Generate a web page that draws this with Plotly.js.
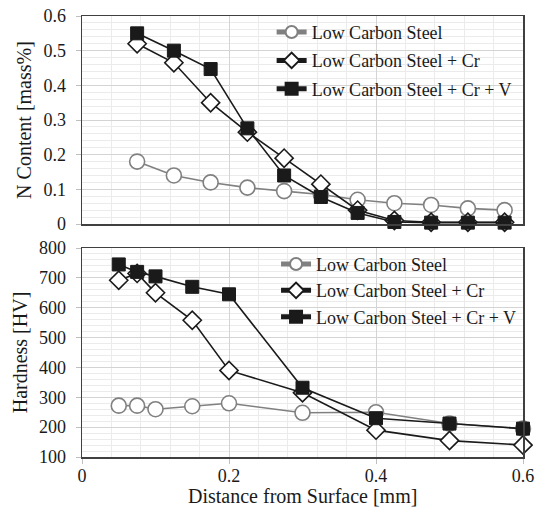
<!DOCTYPE html>
<html>
<head>
<meta charset="utf-8">
<script src="https://cdn.plot.ly/plotly-3.0.1.min.js"></script>
<style>html,body{margin:0;padding:0;background:#fff;}#chart{width:537px;height:517px;}</style>
</head>
<body>
<div id="chart"></div>
<script>
// Data
const seriesNames = ["Low Carbon Steel", "Low Carbon Steel + Cr", "Low Carbon Steel + Cr + V"];

const xNitrogen = [0.075, 0.125, 0.175, 0.225, 0.275, 0.325, 0.375, 0.425, 0.475, 0.525, 0.575];
const nLowCarbon = [0.18, 0.14, 0.12, 0.105, 0.095, 0.085, 0.07, 0.06, 0.055, 0.045, 0.04];
const nCr = [0.52, 0.465, 0.35, 0.265, 0.19, 0.115, 0.04, 0.01, 0.005, 0.005, 0.005];
const nCrV = [0.55, 0.50, 0.447, 0.276, 0.14, 0.078, 0.032, 0.006, 0.004, 0.004, 0.004];

const xHardness = [0.05, 0.075, 0.1, 0.15, 0.2, 0.3, 0.4, 0.5, 0.6];
const hLowCarbon = [272, 272, 260, 270, 280, 248, 250, 212, 195];
const hCr = [692, 715, 650, 558, 390, 315, 190, 155, 140];
const hCrV = [745, 720, 705, 670, 645, 332, 230, 212, 195];

const xTickVals = [0, 0.2, 0.4, 0.6];
const nTickVals = [0, 0.1, 0.2, 0.3, 0.4, 0.5, 0.6];
const hTickVals = [100, 200, 300, 400, 500, 600, 700, 800];

const FONT = "'Liberation Serif', 'Times New Roman', serif";
const styles = [
  {line: {color: "#808080", width: 1.6}, marker: {symbol: "circle", size: 15, color: "#ffffff", line: {color: "#808080", width: 1.6}}},
  {line: {color: "#1a1a1a", width: 1.6}, marker: {symbol: "diamond", size: 14, color: "#ffffff", line: {color: "#1a1a1a", width: 1.6}}},
  {line: {color: "#1a1a1a", width: 1.6}, marker: {symbol: "square", size: 13, color: "#1a1a1a", line: {color: "#1a1a1a", width: 1}}}
];

const nSeries = [nLowCarbon, nCr, nCrV];
const hSeries = [hLowCarbon, hCr, hCrV];
const traces = [];
nSeries.forEach((ys, i) => {
  traces.push(Object.assign({
    type: "scatter", mode: "lines+markers", x: xNitrogen, y: ys, name: seriesNames[i],
    xaxis: "x2", yaxis: "y2", legend: "legend", legendgroup: "n" + i, cliponaxis: false
  }, styles[i]));
});
hSeries.forEach((ys, i) => {
  traces.push(Object.assign({
    type: "scatter", mode: "lines+markers", x: xHardness, y: ys, name: seriesNames[i],
    xaxis: "x", yaxis: "y", legend: "legend2", legendgroup: "h" + i, cliponaxis: false
  }, styles[i]));
});

const frame = {showline: true, linecolor: "#404040", linewidth: 1.5, mirror: true, zeroline: false};
const layout = {
  width: 537, height: 517,
  margin: {l: 82, r: 14, t: 16, b: 60},
  paper_bgcolor: "#ffffff", plot_bgcolor: "#ffffff",
  font: {family: FONT, size: 18, color: "#1a1a1a"},
  showlegend: true,
  xaxis: Object.assign({}, frame, {
    range: [0, 0.6], anchor: "y", tickvals: xTickVals, ticktext: ["0", "0.2", "0.4", "0.6"],
    ticks: "outside", ticklen: 5, tickcolor: "#bfbfbf", ticklabelstandoff: -3,
    gridcolor: "#d4d4d4", gridwidth: 1,
    minor: {dtick: 0.04, tick0: 0, showgrid: true, gridcolor: "#ebebeb", gridwidth: 1, ticks: ""},
    tickfont: {size: 18, family: FONT}
  }),
  yaxis: Object.assign({}, frame, {
    domain: [0, 0.4739], range: [100, 800], tickvals: hTickVals,
    ticks: "outside", ticklen: 5, tickcolor: "#bfbfbf", ticklabelstandoff: 6,
    gridcolor: "#d4d4d4",
    minor: {dtick: 20, tick0: 0, showgrid: true, gridcolor: "#ebebeb", ticks: ""},
    title: {text: "Hardness [HV]", font: {size: 20, family: FONT}, standoff: 6},
    tickfont: {size: 18, family: FONT}
  }),
  xaxis2: Object.assign({}, frame, {
    range: [0, 0.6], anchor: "y2", matches: "x", tickvals: xTickVals, showticklabels: false,
    ticks: "", gridcolor: "#d4d4d4",
    minor: {dtick: 0.04, tick0: 0, showgrid: true, gridcolor: "#ebebeb", ticks: ""}
  }),
  yaxis2: Object.assign({}, frame, {
    domain: [0.5283, 1], range: [0, 0.6], tickvals: nTickVals,
    ticktext: ["0", "0.1", "0.2", "0.3", "0.4", "0.5", "0.6"],
    ticks: "outside", ticklen: 5, tickcolor: "#bfbfbf", ticklabelstandoff: 6,
    gridcolor: "#d4d4d4",
    minor: {dtick: 0.02, tick0: 0, showgrid: true, gridcolor: "#ebebeb", ticks: ""},
    title: {text: "N Content [mass%]", font: {size: 20, family: FONT}, standoff: 6},
    tickfont: {size: 18, family: FONT}
  }),
  annotations: [{
    text: "Distance from Surface [mm]", xref: "paper", yref: "paper", x: 0.5, y: -0.0884,
    xanchor: "center", yanchor: "middle", showarrow: false, font: {size: 20, family: FONT, color: "#1a1a1a"}
  }],
  legend: {
    x: 0.43, y: 1.005, xanchor: "left", yanchor: "top", xref: "paper", yref: "paper",
    bgcolor: "rgba(255,255,255,0)", borderwidth: 0, font: {size: 18, family: FONT},
    traceorder: "grouped", tracegroupgap: 2, itemwidth: 30, itemsizing: "constant"
  },
  legend2: {
    x: 0.44, y: 0.479, xanchor: "left", yanchor: "top", xref: "paper", yref: "paper",
    bgcolor: "rgba(255,255,255,0)", borderwidth: 0, font: {size: 18, family: FONT},
    traceorder: "grouped", tracegroupgap: 0, itemwidth: 30, itemsizing: "constant"
  }
};

Plotly.newPlot("chart", traces, layout, {displayModeBar: false, staticPlot: true});
</script>
</body>
</html>
